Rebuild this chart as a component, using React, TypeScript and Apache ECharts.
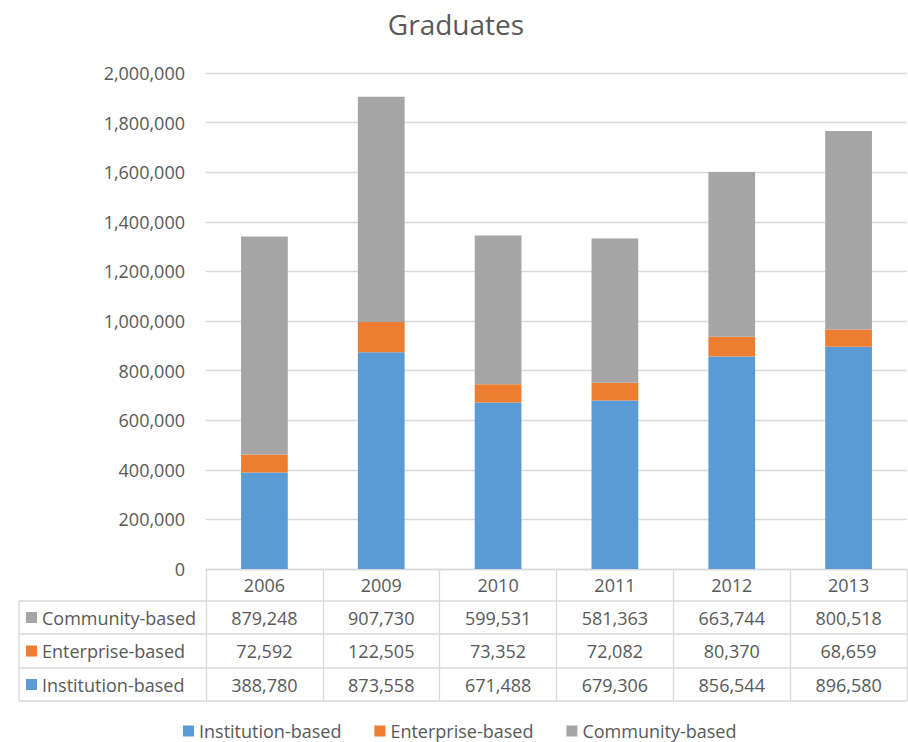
import React, { useEffect, useRef } from "react";
import * as echarts from "echarts";

const years = ["2006", "2009", "2010", "2011", "2012", "2013"];
const institution = [388780, 873558, 671488, 679306, 856544, 896580];
const enterprise = [72592, 122505, 73352, 72082, 80370, 68659];
const community = [879248, 907730, 599531, 581363, 663744, 800518];
const seriesNames = ["Institution-based", "Enterprise-based", "Community-based"];
const seriesColors = ["#5B9BD5", "#ED7D31", "#A5A5A5"];
const yTicks = { min: 0, max: 2000000, interval: 200000 };

const FONT = "'Open Sans', sans-serif";
const TXT = "#595959";
const LINE = "#D9D9D9";

const fmt = (v: number) => v.toLocaleString("en-US");

export default function App() {
  const ref = useRef<HTMLDivElement>(null);
  useEffect(() => {
    if (!ref.current) return;
    const chart = echarts.init(ref.current, null, { renderer: "svg" });
    const seriesData = [institution, enterprise, community];
    // table rows top to bottom: community, enterprise, institution
    const rowOrder = [2, 1, 0];
    const rowCenters = [617.5, 651, 684.5];
    const headerCenter = 585;

    const extraAxes = rowOrder.map((si, r) => ({
      type: "category",
      gridIndex: 0,
      position: "bottom",
      data: years,
      offset: rowCenters[r] - headerCenter,
      axisLine: { show: false },
      axisTick: { show: false },
      axisLabel: {
        interval: 0,
        margin: 7,
        fontSize: 18,
        fontFamily: FONT,
        color: TXT,
        formatter: (_v: string, idx: number) => fmt(seriesData[si][idx]),
      },
    }));

    const graphics: any[] = [];
    [601, 634, 668, 701].forEach((y) =>
      graphics.push({
        type: "line",
        shape: { x1: 19, y1: y, x2: 907, y2: y },
        style: { stroke: LINE, lineWidth: 1.3 },
      })
    );
    graphics.push({
      type: "line",
      shape: { x1: 19, y1: 601, x2: 19, y2: 701 },
      style: { stroke: LINE, lineWidth: 1.3 },
    });
    rowOrder.forEach((si, r) => {
      graphics.push({
        type: "rect",
        shape: { x: 26, y: rowCenters[r] - 5.5, width: 11, height: 11 },
        style: { fill: seriesColors[si] },
      });
      graphics.push({
        type: "text",
        x: 42,
        y: rowCenters[r],
        style: {
          text: seriesNames[si],
          fontSize: 18,
          fontFamily: FONT,
          fill: TXT,
          verticalAlign: "middle",
        },
      });
    });

    chart.setOption({
      animation: false,
      backgroundColor: "#ffffff",
      title: {
        text: "Graduates",
        left: 451,
        textAlign: "center",
        top: 5,
        textStyle: { fontSize: 28, fontWeight: "normal", fontFamily: FONT, color: TXT },
      },
      grid: { left: 206, right: 1, top: 73, bottom: 173, containLabel: false },
      legend: {
        left: 183,
        top: 722,
        padding: 0,
        itemWidth: 11,
        itemHeight: 11,
        itemGap: 33,
        icon: "rect",
        data: seriesNames,
        textStyle: { fontSize: 18, fontFamily: FONT, color: TXT },
      },
      xAxis: [
        {
          type: "category",
          data: years,
          axisLine: { lineStyle: { color: LINE, width: 1.3 } },
          axisTick: { show: true, length: 132, interval: 0, lineStyle: { color: LINE, width: 1.3 } },
          axisLabel: { interval: 0, margin: 7, fontSize: 18, fontFamily: FONT, color: TXT },
        },
        ...extraAxes,
      ],
      yAxis: {
        type: "value",
        min: yTicks.min,
        max: yTicks.max,
        interval: yTicks.interval,
        axisLine: { show: false },
        axisTick: { show: false },
        splitLine: { lineStyle: { color: LINE, width: 1.3 } },
        axisLabel: {
          margin: 21,
          fontSize: 18,
          fontFamily: FONT,
          color: TXT,
          formatter: (v: number) => fmt(v),
        },
      },
      graphic: graphics,
      series: seriesNames.map((name, i) => ({
        name,
        type: "bar",
        stack: "total",
        barWidth: "40%",
        data: seriesData[i],
        itemStyle: { color: seriesColors[i] },
      })),
    });
    return () => chart.dispose();
  }, []);
  return (
    <div
      ref={ref}
      style={{ position: "fixed", left: 0, top: 0, width: 908, height: 742, background: "#fff" }}
    />
  );
}
